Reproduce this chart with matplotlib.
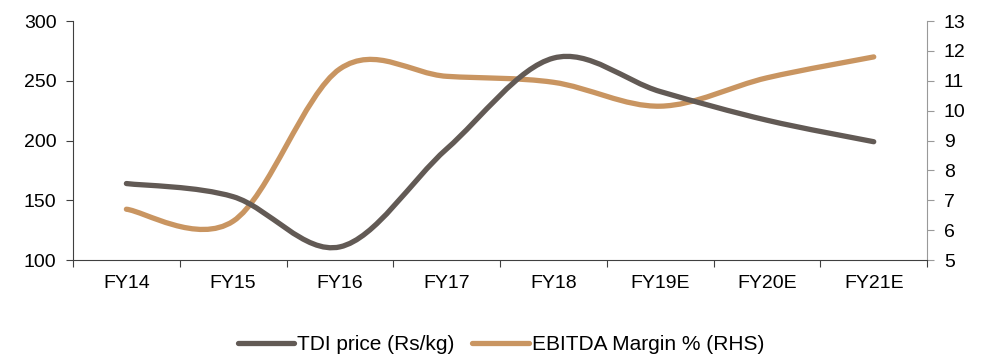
import numpy as np
import matplotlib
matplotlib.use("Agg")
import matplotlib.pyplot as plt
from matplotlib.path import Path
from matplotlib.patches import PathPatch
from matplotlib.lines import Line2D

plt.rcParams['font.family'] = ['Liberation Sans', 'DejaVu Sans']

categories = ["FY14", "FY15", "FY16", "FY17", "FY18", "FY19E", "FY20E", "FY21E"]
tdi_price = [164, 153, 111, 193, 269, 241, 217, 199]
ebitda_margin = [6.7, 6.3, 11.4, 11.15, 10.95, 10.15, 11.1, 11.8]

gray = "#625a55"
orange = "#c99561"
lw = 3.8


def smooth_path(xs, ys):
    xs = np.asarray(xs, float)
    ys = np.asarray(ys, float)
    n = len(xs)
    verts = [(xs[0], ys[0])]
    codes = [Path.MOVETO]
    for i in range(n - 1):
        i0 = max(i - 1, 0)
        i3 = min(i + 2, n - 1)
        c1 = (xs[i] + (xs[i + 1] - xs[i0]) / 6, ys[i] + (ys[i + 1] - ys[i0]) / 6)
        c2 = (xs[i + 1] - (xs[i3] - xs[i]) / 6, ys[i + 1] - (ys[i3] - ys[i]) / 6)
        verts += [c1, c2, (xs[i + 1], ys[i + 1])]
        codes += [Path.CURVE4] * 3
    return Path(verts, codes)


fig = plt.figure(figsize=(9.92, 3.57), dpi=100)
ax = fig.add_axes([0.0736, 0.2717, 0.861, 0.6693])
ax2 = ax.twinx()

x = np.arange(len(categories))
ax.add_patch(PathPatch(smooth_path(x, tdi_price), fill=False, edgecolor=gray,
                       lw=lw, capstyle='round', joinstyle='round', zorder=3))
ax2.add_patch(PathPatch(smooth_path(x, ebitda_margin), fill=False, edgecolor=orange,
                        lw=lw, capstyle='round', joinstyle='round', zorder=2))
ax.set_zorder(ax2.get_zorder() + 1)
ax.patch.set_visible(False)

ax.set_xlim(-0.5, len(categories) - 0.5)
ax.set_ylim(100, 300)
ax.set_yticks([100, 150, 200, 250, 300])
ax2.set_ylim(5, 13)
ax2.set_yticks(range(5, 14))

fs = 14
ax.set_xticks(np.arange(-0.5, len(categories), 1.0))
ax.set_xticklabels([])
ax.set_xticks(x, minor=True)
ax.set_xticklabels(categories, minor=True)
ax.tick_params(axis='x', which='major', direction='out', length=5, color='#404040')
ax.tick_params(axis='x', which='minor', length=0, pad=11, labelsize=fs)
ax.tick_params(axis='y', direction='out', length=5, color='#404040', labelsize=fs, pad=7)
ax2.tick_params(axis='y', direction='out', length=5, color='#999999', labelsize=fs, pad=7)

for a in (ax, ax2):
    a.spines['top'].set_visible(False)
ax.spines['right'].set_visible(False)
ax.spines['left'].set_color('#404040')
ax.spines['bottom'].set_color('#404040')
ax2.spines['left'].set_visible(False)
ax2.spines['bottom'].set_visible(False)
ax2.spines['right'].set_color('#999999')

handles = [Line2D([], [], color=gray, lw=lw, solid_capstyle='round'),
           Line2D([], [], color=orange, lw=lw, solid_capstyle='round')]
fig.legend(handles, ["TDI price (Rs/kg)", "EBITDA Margin % (RHS)"],
           loc='center', bbox_to_anchor=(0.505, 0.034), ncol=2, frameon=False,
           fontsize=15, handlelength=2.7, handletextpad=0.15, columnspacing=0.85)

fig.savefig("out.png", dpi=100)
